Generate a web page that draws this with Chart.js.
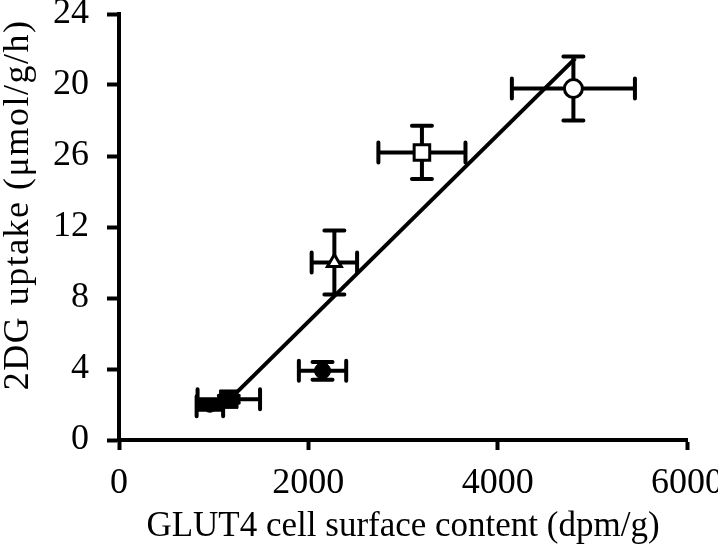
<!DOCTYPE html>
<html>
<head>
<meta charset="utf-8">
<script src="https://cdn.jsdelivr.net/npm/chart.js@4.4.1/dist/chart.umd.min.js"></script>
<style>
  html, body { margin: 0; padding: 0; background: #fff; }
  #wrap { width: 718px; height: 550px; }
</style>
</head>
<body>
<div id="wrap"><canvas id="glutChart" width="718" height="550"></canvas></div>
<script>
// values
const groupX = [960, 1160, 2150, 2275, 3200, 4800];
const groupY = [1.9, 2.3, 3.9, 10.0, 16.2, 19.8];
const groupXErr = [140, 330, 250, 240, 460, 650];
const groupYErr = [0.2, 0.2, 0.5, 1.8, 1.5, 1.8];
const groupStyle = ['circle', 'rect', 'circle', 'triangle', 'rect', 'circle'];
const groupFilled = [true, true, true, false, false, false];
const groupRadius = [6, 13, 8, 8, 11, 9];

const fitX = [1190, 4820];
const fitY = [2.4, 21.5];

const xTicks = [0, 2000, 4000, 6000];
const yTickLabels = ['0', '4', '8', '12', '26', '20', '24'];
const yTitle = '2DG uptake (μmol/g/h)';

const serif = "'Liberation Serif', 'Times New Roman', serif";

// error bars drawn right before the markers, after the fitted line
const errorBars = {
    id: 'errorBars',
    beforeDatasetDraw(chart, args) {
        if (args.index !== 0) return;
        const ctx = chart.ctx;
        const xs = chart.scales.x;
        const ys = chart.scales.y;
        const cap = 10;
        ctx.save();
        ctx.strokeStyle = '#000';
        ctx.lineWidth = 4;
        ctx.lineCap = 'round';
        groupX.forEach((x, i) => {
            const px = xs.getPixelForValue(x);
            const py = ys.getPixelForValue(groupY[i]);
            const x0 = xs.getPixelForValue(x - groupXErr[i]);
            const x1 = xs.getPixelForValue(x + groupXErr[i]);
            const y0 = ys.getPixelForValue(groupY[i] - groupYErr[i]);
            const y1 = ys.getPixelForValue(groupY[i] + groupYErr[i]);
            ctx.beginPath();
            ctx.moveTo(x0, py); ctx.lineTo(x1, py);
            ctx.moveTo(x0, py - cap); ctx.lineTo(x0, py + cap);
            ctx.moveTo(x1, py - cap); ctx.lineTo(x1, py + cap);
            ctx.moveTo(px, y0); ctx.lineTo(px, y1);
            ctx.moveTo(px - cap, y0); ctx.lineTo(px + cap, y0);
            ctx.moveTo(px - cap, y1); ctx.lineTo(px + cap, y1);
            ctx.stroke();
        });
        ctx.restore();
    }
};

// y title sits a bit above the middle of the axis and is a little stretched in the original
const yTitlePlugin = {
    id: 'yTitle',
    afterDraw(chart) {
        const ctx = chart.ctx;
        ctx.save();
        ctx.translate(19, 205);
        ctx.rotate(-Math.PI / 2);
        ctx.font = '36px ' + serif;
        ctx.letterSpacing = '1.5px';
        ctx.fillStyle = '#000';
        ctx.textAlign = 'center';
        ctx.textBaseline = 'middle';
        ctx.fillText(yTitle, 0, 0);
        ctx.restore();
    }
};

new Chart(document.getElementById('glutChart'), {
    type: 'scatter',
    data: {
        datasets: [
            {
                label: 'groups',
                data: groupX.map((x, i) => ({ x: x, y: groupY[i] })),
                pointStyle: groupStyle,
                pointRadius: groupRadius,
                pointBackgroundColor: groupFilled.map(f => f ? '#000' : '#fff'),
                pointBorderColor: '#000',
                pointBorderWidth: groupFilled.map(f => f ? 1 : 3),
                order: 0
            },
            {
                label: 'fit',
                type: 'line',
                data: fitX.map((x, i) => ({ x: x, y: fitY[i] })),
                borderColor: '#000',
                borderWidth: 4,
                pointRadius: 0,
                fill: false,
                order: 1
            }
        ]
    },
    options: {
        responsive: false,
        animation: false,
        layout: { padding: { top: 13, right: 31, left: 0, bottom: 0 } },
        plugins: {
            legend: { display: false },
            tooltip: { enabled: false }
        },
        scales: {
            x: {
                type: 'linear',
                min: 0,
                max: 6000,
                afterBuildTicks: s => { s.ticks = xTicks.map(v => ({ value: v })); },
                afterFit: s => { s.height = 110; s.paddingLeft = 0; s.paddingRight = 0; },
                border: { color: '#000', width: 4 },
                grid: { drawOnChartArea: false, color: '#000', tickLength: 10, tickWidth: 4 },
                ticks: {
                    color: '#000',
                    padding: 12,
                    maxRotation: 0,
                    font: { family: serif, size: 36 },
                    callback: v => String(v)
                },
                title: {
                    display: true,
                    text: 'GLUT4 cell surface content (dpm/g)',
                    color: '#000',
                    padding: { top: 0, bottom: 2 },
                    font: { family: serif, size: 35 }
                }
            },
            y: {
                type: 'linear',
                min: 0,
                max: 24,
                afterFit: s => { s.width = 119; s.paddingTop = 0; s.paddingBottom = 0; },
                border: { color: '#000', width: 4 },
                grid: { drawOnChartArea: false, color: '#000', tickLength: 12, tickWidth: 4 },
                ticks: {
                    stepSize: 4,
                    color: '#000',
                    padding: 18,
                    font: { family: serif, size: 36 },
                    callback: (v, i) => yTickLabels[i]
                },
                title: { display: false }
            }
        }
    },
    plugins: [errorBars, yTitlePlugin]
});
</script>
</body>
</html>
